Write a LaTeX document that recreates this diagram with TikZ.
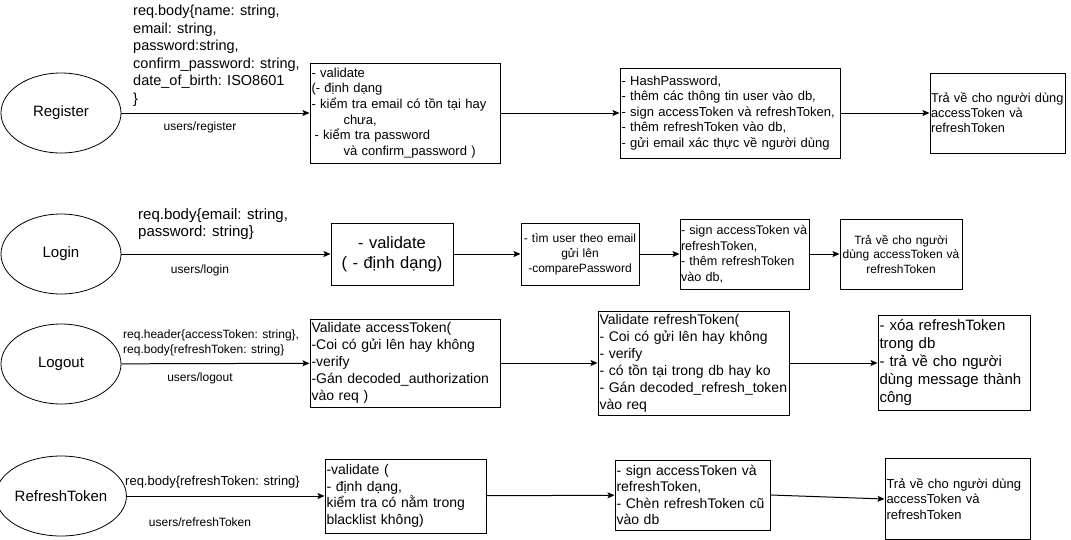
\documentclass[tikz,border=0pt]{standalone}
\usepackage{fontspec}
\setmainfont{Liberation Sans}
\usetikzlibrary{arrows.meta,positioning,shapes.geometric}

\begin{document}
\begin{tikzpicture}[x=1pt,y=-1pt,
  usecase/.style={draw,ellipse,line width=0.8pt,minimum width=120,minimum height=80,inner sep=0pt,font=\fontsize{15}{18}\selectfont},
  stepbox/.style={draw,rectangle,line width=1pt,inner xsep=1.5pt,inner ysep=0pt,align=left},
  flow/.style={-{Stealth[length=7pt,width=6pt,inset=1.5pt]},line width=1pt},
  route/.style={inner sep=0pt,font=\fontsize{12}{14.4}\selectfont},
  payload/.style={anchor=north west,inner sep=0pt,align=left}]
\useasboundingbox (0,0) rectangle (1071,539);

% Register
\node[usecase] (reg) at (61,113) {Register};
\node[payload,font=\fontsize{14.5}{17.5}\selectfont] (regbody) at (133,5) {req.body\{name: string,\\email: string,\\password:string,\\confirm\_password: string,\\date\_of\_birth: ISO8601\\\}};
\node[route] (regurl) at (200,127) {users/register};
\node[stepbox,text width=187,minimum height=100,font=\fontsize{13}{15.6}\selectfont] (regcheck) at (405,113)
  {- validate\\(- định dạng\\- kiểm tra email có tồn tại hay\\\hspace*{32pt}chưa,\\\hspace*{3pt}- kiểm tra password\\\hspace*{32pt}và confirm\_password )};
\node[stepbox,text width=217,minimum height=90,font=\fontsize{13}{15.6}\selectfont] (regsave) at (730,113)
  {- HashPassword,\\- thêm các thông tin user vào db,\\- sign accessToken và refreshToken,\\- thêm refreshToken vào db,\\- gửi email xác thực về người dùng};
\node[stepbox,inner xsep=1pt,text width=133,minimum height=80,font=\fontsize{12.8}{15}\selectfont] (regres) at (997.5,113)
  {Trả về cho người dùng\\accessToken và\\refreshToken};
\draw[flow] (reg) -- (regcheck);
\draw[flow] (regcheck) -- (regsave);
\draw[flow] (regsave) -- (regres);

% Login
\node[usecase] (login) at (61,254) {Login};
\node[payload,font=\fontsize{15}{17.5}\selectfont] (loginbody) at (138,208) {req.body\{email: string,\\password: string\}};
\node[route] (loginurl) at (200,270) {users/login};
\node[stepbox,align=center,text width=119,minimum height=62,font=\fontsize{16.5}{19.8}\selectfont] (logincheck) at (392,254)
  {- validate\\( - định dạng)};
\node[stepbox,align=center,text width=115,minimum height=62,font=\fontsize{12}{15}\selectfont] (loginfind) at (580,254)
  {- tìm user theo email\\gửi lên\\-comparePassword};
\node[stepbox,inner xsep=1pt,text width=127,minimum height=70,font=\fontsize{12.6}{15.5}\selectfont] (loginsign) at (744.5,254)
  {- sign accessToken và\\refreshToken,\\- thêm refreshToken\\vào db,};
\node[stepbox,align=center,text width=119,minimum height=70,font=\fontsize{12}{14.5}\selectfont] (loginres) at (901,254)
  {Trả về cho người\\dùng accessToken và\\refreshToken};
\draw[flow] (login) -- (logincheck);
\draw[flow] (logincheck) -- (loginfind);
\draw[flow] (loginfind) -- (loginsign);
\draw[flow] (loginsign) -- (loginres);

% Logout
\node[usecase] (logout) at (61,364) {Logout};
\node[payload,font=\fontsize{12}{14.5}\selectfont] (logoutbody) at (123,330) {req.header\{accessToken: string\},\\req.body\{refreshToken: string\}};
\node[route] (logouturl) at (200,378) {users/logout};
\node[stepbox,text width=187,minimum height=88,font=\fontsize{14}{17}\selectfont] (logoutacc) at (405,363)
  {Validate accessToken(\\-Coi có gửi lên hay không\\-verify\\-Gán decoded\_authorization\\vào req )};
\node[stepbox,text width=188,minimum height=104,font=\fontsize{14}{17}\selectfont] (logoutref) at (693.5,363)
  {Validate refreshToken(\\- Coi có gửi lên hay không\\- verify\\- có tồn tại trong db hay ko\\- Gán decoded\_refresh\_token\\vào req};
\node[stepbox,text width=149,minimum height=95,font=\fontsize{15}{18}\selectfont] (logoutres) at (954,363)
  {- xóa refreshToken\\trong db\\- trả về cho người\\dùng message thành\\công};
\draw[flow] (logout) -- (logoutacc);
\draw[flow] (logoutacc) -- (logoutref);
\draw[flow] (logoutref) -- (logoutres);

% RefreshToken
\node[usecase] (refresh) at (61,496) {RefreshToken};
\node[payload,font=\fontsize{13}{15.6}\selectfont] (refreshbody) at (125,476) {req.body\{refreshToken: string\}};
\node[route] (refreshurl) at (200,522) {users/refreshToken};
\node[stepbox,text width=158,minimum height=74,font=\fontsize{14}{16.5}\selectfont] (refreshcheck) at (405.5,496)
  {-validate (\\- định dạng,\\kiểm tra có nằm trong\\blacklist không)};
\node[stepbox,text width=152,minimum height=70,font=\fontsize{14}{16.5}\selectfont] (refreshsign) at (692.5,495)
  {- sign accessToken và\\refreshToken,\\- Chèn refreshToken cũ\\vào db};
\node[stepbox,text width=142,minimum height=81,font=\fontsize{13}{15.6}\selectfont] (refreshres) at (957.5,499)
  {Trả về cho người dùng\\accessToken và\\refreshToken};
\draw[flow] (refresh) -- (refreshcheck);
\draw[flow] (refreshcheck) -- (refreshsign);
\draw[flow] (refreshsign.east) -- (refreshres.west);
\end{tikzpicture}
\end{document}
